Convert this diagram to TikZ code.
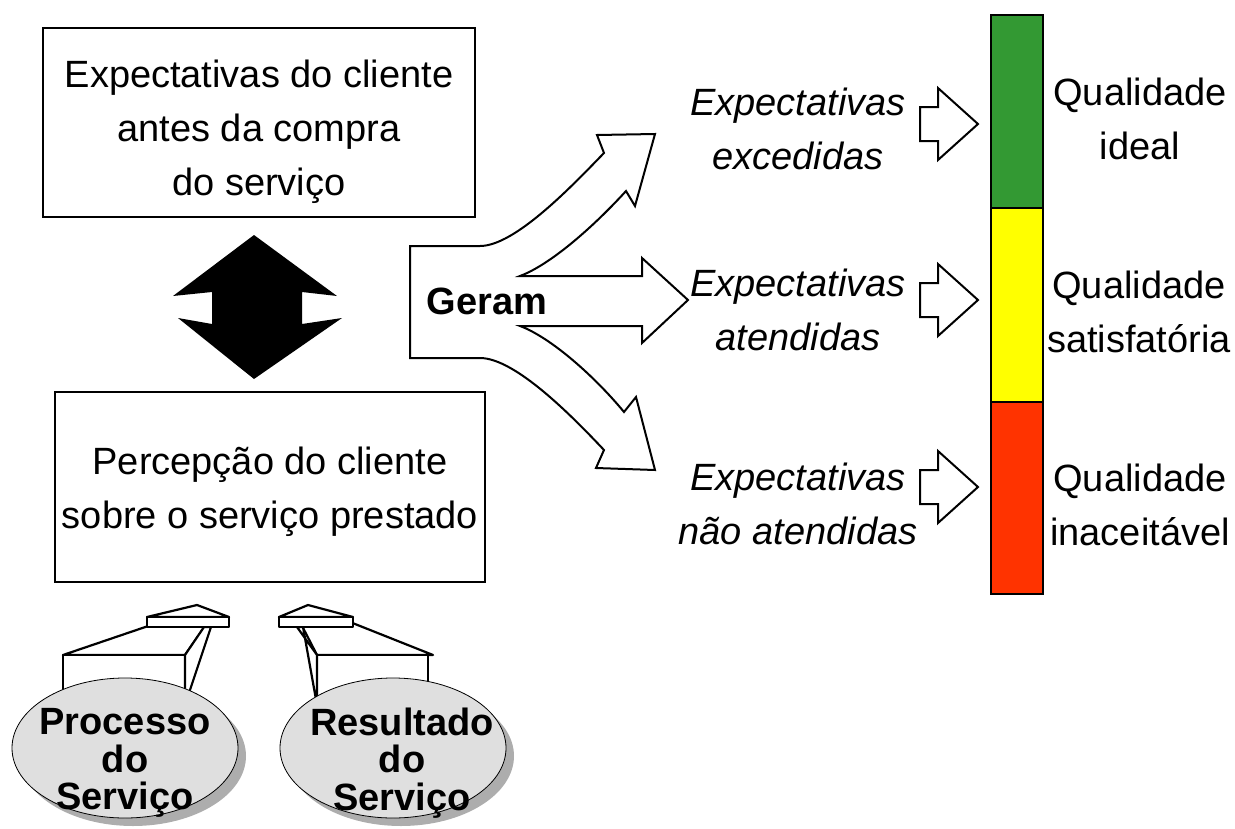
\documentclass[tikz,border=0pt]{standalone}
\usepackage{fontspec}
\setmainfont{Liberation Sans}
\usetikzlibrary{shapes.geometric, shadows}

\begin{document}
\begin{tikzpicture}[x=1pt, y=-1pt,
        quadro/.style={draw, line width=2pt, fill=white, inner sep=0pt},
        texto/.style={align=center, inner sep=0pt, font=\fontsize{38}{54}\selectfont},
        expec/.style={texto, font=\fontsize{38}{54}\selectfont\itshape},
        seta/.style={draw, line width=2pt, fill=white, line join=miter},
        bloco/.style={draw, line width=2.2pt, fill=white, line join=round},
        servico/.style={ellipse, draw, line width=0.8pt, fill=gray!25, inner sep=0pt,
            minimum width=226pt, minimum height=140pt,
            drop shadow={shadow xshift=8pt, shadow yshift=-8pt, fill=black!32, opacity=1}},
        rotulo/.style={align=center, inner sep=0pt, font=\fontsize{38}{37.5}\selectfont\bfseries},
        faixa/.style={draw, line width=2pt, inner sep=0pt, minimum width=52pt}]
        \useasboundingbox (0,0) rectangle (1235,828);

        % Boxes
        \node[quadro, minimum width=432pt, minimum height=189pt] (antes) at (259,122.5) {};
        \node[texto] (antesTxt) at (259,131.5) {Expectativas do cliente\\antes da compra\\do servi\c{c}o};
        \node[quadro, minimum width=430pt, minimum height=190pt] (percep) at (270,487) {};
        \node[texto] (percepTxt) at (270,491.5) {Percep\c{c}\~ao do cliente\\sobre o servi\c{c}o prestado};

        % Double arrow
        \fill (254,235) -- (337,296) -- (302,292) -- (302,324) -- (342,318) -- (254,379)
            -- (178,318) -- (212,324) -- (212,292) -- (173,296) -- cycle;

        % 3D arrows
        \draw[bloco] (63,655) -- (160,622) -- (208,622) -- (185,655) -- cycle;
        \draw[bloco] (63,655) rectangle (185,705);
        \draw[bloco] (185,655) -- (204,627) -- (211,627) -- (185,705) -- cycle;
        \draw[bloco] (147,617) -- (197,605) -- (229,617) -- cycle;
        \draw[bloco] (147,617) rectangle (229,627);

        \draw[bloco] (433,655) -- (350,622) -- (300,622) -- (317,655) -- cycle;
        \draw[bloco] (317,655) rectangle (428,705);
        \draw[bloco] (317,655) -- (297,627) -- (303,627) -- (317,705) -- cycle;
        \draw[bloco] (279,617) -- (308,605) -- (353,617) -- cycle;
        \draw[bloco] (279,617) rectangle (353,627);

        % Ellipses
        \node[servico] (processo) at (125,748) {};
        \node[rotulo] (processoTxt) at (125,763) {Processo\\do\\Servi\c{c}o};
        \node[servico] (resultado) at (393,748) {};
        \node[rotulo] (resultadoTxt) at (402,763) {Resultado\\do\\Servi\c{c}o};

        % Branching arrow
        \draw[seta] (410,246) -- (480,246)
            .. controls (515,246) and (572,186) .. (604,153)
            -- (597,135) -- (655,134) -- (635,206) -- (626,191)
            .. controls (596,224) and (552,264) .. (520,276)
            -- (642,276) -- (642,258) -- (688,300) -- (642,343) -- (642,326) -- (520,326)
            .. controls (552,338) and (596,378) .. (624,412)
            -- (636,397) -- (655,470) -- (596,468) -- (604,450)
            .. controls (572,416) and (515,358) .. (480,358)
            -- (410,358) -- cycle;
        \node[texto, font=\fontsize{38}{54}\selectfont\bfseries] (geram) at (487,301) {Geram};

        % Results
        \node[expec] (excedidas) at (798,128.5) {Expectativas\\excedidas};
        \node[expec] (atendidas) at (798,310) {Expectativas\\atendidas};
        \node[expec] (naoatend) at (798,504) {Expectativas\\n\~ao atendidas};

        \foreach \yc in {124,300,487}
            \draw[seta] (920,{\yc-17}) -- (938,{\yc-17}) -- (938,{\yc-36}) -- (978,\yc)
                -- (938,{\yc+36}) -- (938,{\yc+17}) -- (920,{\yc+17}) -- cycle;

        % Bar
        \node[faixa, fill={rgb,255:red,51;green,153;blue,51}, minimum height=193pt] (verde) at (1017,111.5) {};
        \node[faixa, fill={rgb,255:red,255;green,255;blue,0}, minimum height=194pt] (amarelo) at (1017,305) {};
        \node[faixa, fill={rgb,255:red,255;green,51;blue,0}, minimum height=192pt] (vermelho) at (1017,498) {};

        \node[texto] (ideal) at (1140,119) {Qualidade\\ideal};
        \node[texto] (satisf) at (1139,312) {Qualidade\\satisfat\'oria};
        \node[texto] (inaceit) at (1140,505) {Qualidade\\inaceit\'avel};
    \end{tikzpicture}
\end{document}
